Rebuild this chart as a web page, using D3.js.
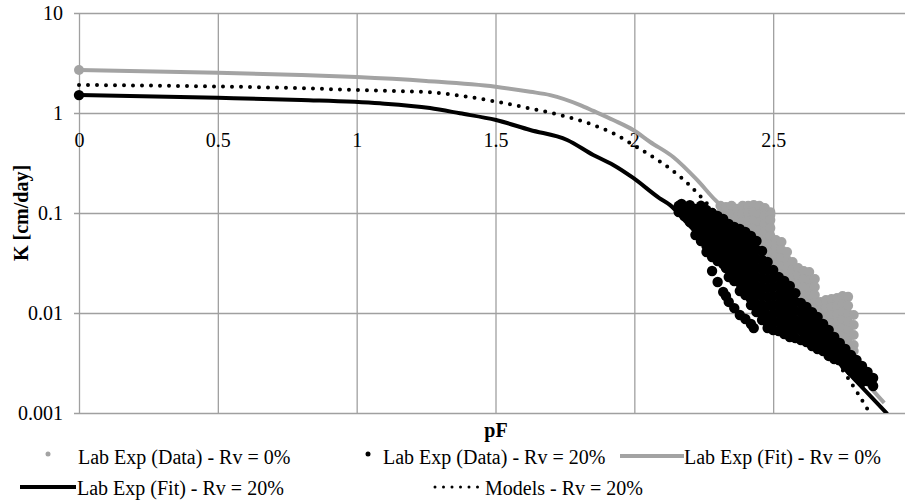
<!DOCTYPE html>
<html><head><meta charset="utf-8">
<script src="https://cdn.jsdelivr.net/npm/d3@7/dist/d3.min.js"></script>
<style>body{margin:0;background:#fff}svg{display:block}text{font-family:"Liberation Serif","Times New Roman",Times,serif}</style>
</head><body><svg id="c" width="905" height="500"></svg>
<script>
// ---------- data ----------
const xTicks = [0, 0.5, 1, 1.5, 2, 2.5];
const xTickLabels = ["0", "0.5", "1", "1.5", "2", "2.5"];
const yTicks = [10, 1, 0.1, 0.01, 0.001];
const yTickLabels = ["10", "1", "0.1", "0.01", "0.001"];
const seriesNames = ["Lab Exp (Data) - Rv = 0%", "Lab Exp (Data) - Rv = 20%", "Lab Exp (Fit) - Rv = 0%", "Lab Exp (Fit) - Rv = 20%", "Models - Rv = 20%"];

// Lab Exp (Fit) - Rv = 0%
const fit0PF = [0, 0.5, 0.8, 1.0, 1.25, 1.5, 1.625, 1.697, 1.805, 1.852, 1.924, 1.996, 2.057, 2.14, 2.226, 2.291, 2.37, 2.5, 2.6, 2.7, 2.84, 2.9];
const fit0K  = [2.69, 2.53, 2.40, 2.29, 2.09, 1.83, 1.63, 1.51, 1.20, 1.05, 0.851, 0.676, 0.513, 0.363, 0.214, 0.135, 0.0851, 0.0331, 0.0151, 0.00676, 0.00195, 0.00126];
// Lab Exp (Fit) - Rv = 20%
const fit20PF = [0, 0.5, 0.8, 1.084, 1.264, 1.372, 1.502, 1.625, 1.758, 1.852, 1.924, 1.996, 2.09, 2.129, 2.19, 2.3, 2.4, 2.5, 2.6, 2.716, 2.795, 2.911];
const fit20K  = [1.51, 1.42, 1.35, 1.25, 1.12, 0.993, 0.851, 0.676, 0.537, 0.380, 0.302, 0.224, 0.141, 0.120, 0.0794, 0.0398, 0.0214, 0.0120, 0.00692, 0.00363, 0.00214, 0.00098];
// Models - Rv = 20%
const modelPF = [0, 0.796, 1.084, 1.264, 1.372, 1.502, 1.625, 1.733, 1.852, 1.924, 1.996, 2.093, 2.165, 2.284, 2.4, 2.5, 2.6, 2.7, 2.767, 2.846];
const modelK  = [1.91, 1.77, 1.67, 1.61, 1.49, 1.30, 1.11, 0.955, 0.759, 0.627, 0.479, 0.326, 0.231, 0.107, 0.0468, 0.0219, 0.00933, 0.00417, 0.00229, 0.00102];

// Lab Exp (Data) - Rv = 0%  (pF column -> K values)
const data0PF = [0, 2.31, 2.33, 2.35, 2.37, 2.39, 2.41, 2.43, 2.45, 2.47, 2.49, 2.51, 2.53, 2.55, 2.57, 2.59, 2.61, 2.63, 2.65, 2.67, 2.69, 2.71, 2.73, 2.75, 2.77, 2.79];
const data0K = [
  [2.69],
  [0.118, 0.0977],
  [0.115, 0.0955, 0.0794],
  [0.118, 0.0977, 0.0813, 0.0676],
  [0.110, 0.0912, 0.0759, 0.0631],
  [0.118, 0.0977, 0.0813, 0.0676, 0.0562],
  [0.118, 0.100, 0.0832, 0.0692, 0.0575, 0.0479],
  [0.120, 0.102, 0.0851, 0.0708, 0.0589, 0.0490, 0.0407],
  [0.118, 0.0977, 0.0813, 0.0676, 0.0562, 0.0468, 0.0389],
  [0.112, 0.0933, 0.0776, 0.0646, 0.0537, 0.0447, 0.0372, 0.0309],
  [0.102, 0.0955, 0.0851, 0.0708, 0.0589, 0.0490, 0.0407, 0.0339, 0.0282],
  [0.0537, 0.0447, 0.0372, 0.0309, 0.0257, 0.0214],
  [0.0513, 0.0427, 0.0355, 0.0295, 0.0245, 0.0204, 0.0170],
  [0.0407, 0.0339, 0.0282, 0.0234, 0.0195, 0.0162],
  [0.0324, 0.0269, 0.0224, 0.0186, 0.0155, 0.0129],
  [0.0282, 0.0234, 0.0195, 0.0162, 0.0135, 0.0112],
  [0.0263, 0.0219, 0.0182, 0.0151, 0.0126, 0.0105],
  [0.0257, 0.0214, 0.0178, 0.0148, 0.0123, 0.0102],
  [0.0219, 0.0182, 0.0151, 0.0126, 0.0105, 0.00871],
  [0.0129, 0.0107, 0.00891, 0.00741],
  [0.0135, 0.0112, 0.00933, 0.00776, 0.00646],
  [0.0138, 0.0115, 0.00955, 0.00794, 0.00661, 0.00550],
  [0.0141, 0.0118, 0.00977, 0.00813, 0.00676, 0.00562],
  [0.0148, 0.0123, 0.0102, 0.00851, 0.00708, 0.00589, 0.00490],
  [0.0145, 0.0118, 0.00977, 0.00813, 0.00676, 0.00562, 0.00468],
  [0.00955, 0.00759, 0.00603, 0.00479, 0.00417]
];
// Lab Exp (Data) - Rv = 20%
const data20PF = [0, 2.16, 2.17, 2.18, 2.20, 2.22, 2.24, 2.26, 2.28, 2.30, 2.32, 2.33, 2.34, 2.36, 2.38, 2.40, 2.42, 2.43, 2.44, 2.46, 2.48, 2.50, 2.52, 2.54, 2.56, 2.58, 2.60, 2.62, 2.64, 2.66, 2.68, 2.70, 2.72, 2.74, 2.76, 2.78, 2.79, 2.80, 2.82, 2.84, 2.86];
const data20K = [
  [1.51],
  [0.118, 0.102],
  [0.123],
  [0.112, 0.0933],
  [0.120, 0.100, 0.0813],
  [0.110, 0.0891, 0.0724, 0.0603],
  [0.118, 0.0977, 0.0794, 0.0646, 0.0525],
  [0.107, 0.0871, 0.0708, 0.0575, 0.0468, 0.0407],
  [0.100, 0.0813, 0.0661, 0.0537, 0.0437, 0.0363, 0.0263],
  [0.0933, 0.0759, 0.0617, 0.0501, 0.0407, 0.0331, 0.0204],
  [0.0871, 0.0708, 0.0575, 0.0468, 0.0380, 0.0309, 0.0162],
  [0.0282, 0.0148],
  [0.0776, 0.0631, 0.0513, 0.0417, 0.0339, 0.0275, 0.0229, 0.0129],
  [0.0724, 0.0589, 0.0479, 0.0389, 0.0316, 0.0257, 0.0209, 0.0112],
  [0.0692, 0.0562, 0.0457, 0.0372, 0.0302, 0.0245, 0.0200, 0.0166, 0.00955],
  [0.0646, 0.0525, 0.0427, 0.0347, 0.0282, 0.0229, 0.0186, 0.0151, 0.00871],
  [0.0589, 0.0479, 0.0389, 0.0316, 0.0257, 0.0209, 0.0170, 0.0138, 0.0120, 0.00776],
  [0.00708],
  [0.0525, 0.0427, 0.0347, 0.0282, 0.0229, 0.0186, 0.0151, 0.0123, 0.0102],
  [0.0417, 0.0339, 0.0275, 0.0224, 0.0182, 0.0148, 0.0120, 0.0100, 0.00851],
  [0.0324, 0.0269, 0.0219, 0.0178, 0.0145, 0.0118, 0.00955, 0.00794, 0.00708],
  [0.0269, 0.0224, 0.0182, 0.0148, 0.0120, 0.00977, 0.00813, 0.00676],
  [0.0229, 0.0186, 0.0151, 0.0123, 0.0100, 0.00813, 0.00661],
  [0.0209, 0.0170, 0.0138, 0.0112, 0.00912, 0.00741, 0.00617],
  [0.0186, 0.0151, 0.0123, 0.0100, 0.00813, 0.00676, 0.00575],
  [0.0158, 0.0129, 0.0105, 0.00851, 0.00692, 0.00562],
  [0.0126, 0.0102, 0.00832, 0.00676, 0.00537],
  [0.0115, 0.00933, 0.00759, 0.00617, 0.00513],
  [0.0102, 0.00832, 0.00676, 0.00550, 0.00468],
  [0.00912, 0.00741, 0.00603, 0.00501, 0.00437],
  [0.00776, 0.00631, 0.00513, 0.00417],
  [0.00676, 0.00550, 0.00447, 0.00372],
  [0.00575, 0.00479, 0.00398, 0.00347],
  [0.00501, 0.00417, 0.00339],
  [0.00437, 0.00363, 0.00295],
  [0.00380, 0.00316, 0.00263],
  [0.00324],
  [0.00339, 0.00282, 0.00234],
  [0.00295, 0.00245, 0.00204],
  [0.00257, 0.00209],
  [0.00224, 0.00186]
];

// ---------- chart ----------
const svg = d3.select("#c");
const x = d3.scaleLinear().domain([0, 3]).range([79, 912]);
const y = d3.scaleLog().domain([0.001, 10]).range([413, 13]);
const gridCol = "#a0a0a0";
const grayCol = "#a3a3a3";
const FS = 20;
const FF = '"Liberation Serif","Times New Roman",Times,serif';

const defs = svg.append("defs");
defs.append("clipPath").attr("id", "plot").append("rect")
  .attr("x", 70).attr("y", 13).attr("width", 850).attr("height", 400);
defs.append("filter").attr("id", "soft").append("feGaussianBlur").attr("stdDeviation", 0.35);

// horizontal grid + y labels
const ya = svg.append("g").attr("transform", "translate(79,0)")
  .call(d3.axisLeft(y).tickValues(yTicks).tickFormat((d, i) => yTickLabels[i])
    .tickSizeInner(-(912 - 79)).tickSizeOuter(0).tickPadding(16));
ya.select(".domain").remove();
ya.selectAll("line").attr("x1", -5).attr("stroke", gridCol).attr("stroke-width", 1.3);
ya.selectAll("text").attr("font-family", FF).attr("font-size", FS).attr("fill", "#000");

// vertical grid
const xg = svg.append("g").attr("transform", "translate(0,413)")
  .call(d3.axisBottom(x).tickValues(xTicks).tickFormat("").tickSizeInner(-400).tickSizeOuter(0));
xg.select(".domain").remove();
xg.selectAll("line").attr("stroke", gridCol).attr("stroke-width", 1.3);

// x labels placed at the K = 1 crossing
const xa = svg.append("g").attr("transform", `translate(0,${y(1)})`)
  .call(d3.axisBottom(x).tickValues(xTicks).tickFormat((d, i) => xTickLabels[i]).tickSize(0).tickPadding(20));
xa.select(".domain").remove();
xa.selectAll("text").attr("font-family", FF).attr("font-size", FS).attr("fill", "#000");

// axis titles
svg.append("text").attr("x", 496).attr("y", 437).attr("text-anchor", "middle").attr("font-family", FF)
  .attr("font-weight", "bold").attr("font-size", FS).text("pF");
svg.append("text").attr("transform", "translate(28,213) rotate(-90)").attr("text-anchor", "middle").attr("font-family", FF)
  .attr("font-weight", "bold").attr("font-size", FS).text("K [cm/day]");

const line = d3.line().x(d => x(d[0])).y(d => y(d[1])).curve(d3.curveMonotoneX);
const lines = svg.append("g").attr("clip-path", "url(#plot)");
lines.append("path").datum(fit0PF.map((p, i) => [p, fit0K[i]])).attr("d", line)
  .attr("fill", "none").attr("stroke", grayCol).attr("stroke-width", 4);
lines.append("path").datum(fit20PF.map((p, i) => [p, fit20K[i]])).attr("d", line)
  .attr("fill", "none").attr("stroke", "#000").attr("stroke-width", 4);
lines.append("path").datum(modelPF.map((p, i) => [p, modelK[i]])).attr("d", line)
  .attr("fill", "none").attr("stroke", "#000").attr("stroke-width", 4)
  .attr("stroke-linecap", "round").attr("stroke-dasharray", "0 9");

// scatter
const flat = (pf, ks) => pf.flatMap((p, i) => ks[i].map(k => [p, k]));
svg.append("g").attr("filter", "url(#soft)").selectAll("circle").data(flat(data0PF, data0K)).join("circle")
  .attr("cx", d => x(d[0])).attr("cy", d => y(d[1])).attr("r", 5).attr("fill", grayCol);
svg.append("g").attr("filter", "url(#soft)").selectAll("circle").data(flat(data20PF, data20K)).join("circle")
  .attr("cx", d => x(d[0])).attr("cy", d => y(d[1])).attr("r", 5.2).attr("fill", "#000");

// legend
const lg = svg.append("g").attr("font-size", FS).attr("font-family", FF);
const r1 = 464, r2 = 495;
lg.append("circle").attr("cx", 48).attr("cy", r1 - 10).attr("r", 2.5).attr("fill", grayCol);
lg.append("text").attr("x", 78).attr("y", r1).text(seriesNames[0]);
lg.append("circle").attr("cx", 368).attr("cy", r1 - 10).attr("r", 2.5).attr("fill", "#000");
lg.append("text").attr("x", 383).attr("y", r1).text(seriesNames[1]);
lg.append("line").attr("x1", 620).attr("x2", 684).attr("y1", r1 - 8).attr("y2", r1 - 8)
  .attr("stroke", grayCol).attr("stroke-width", 4);
lg.append("text").attr("x", 684).attr("y", r1).text(seriesNames[2]);
lg.append("line").attr("x1", 20).attr("x2", 76).attr("y1", r2 - 8).attr("y2", r2 - 8)
  .attr("stroke", "#000").attr("stroke-width", 4);
lg.append("text").attr("x", 77).attr("y", r2).text(seriesNames[3]);
lg.append("line").attr("x1", 435).attr("x2", 479).attr("y1", r2 - 8).attr("y2", r2 - 8)
  .attr("stroke", "#000").attr("stroke-width", 3).attr("stroke-linecap", "round").attr("stroke-dasharray", "0 8.5");
lg.append("text").attr("x", 485).attr("y", r2).text(seriesNames[4]);
</script></body></html>
